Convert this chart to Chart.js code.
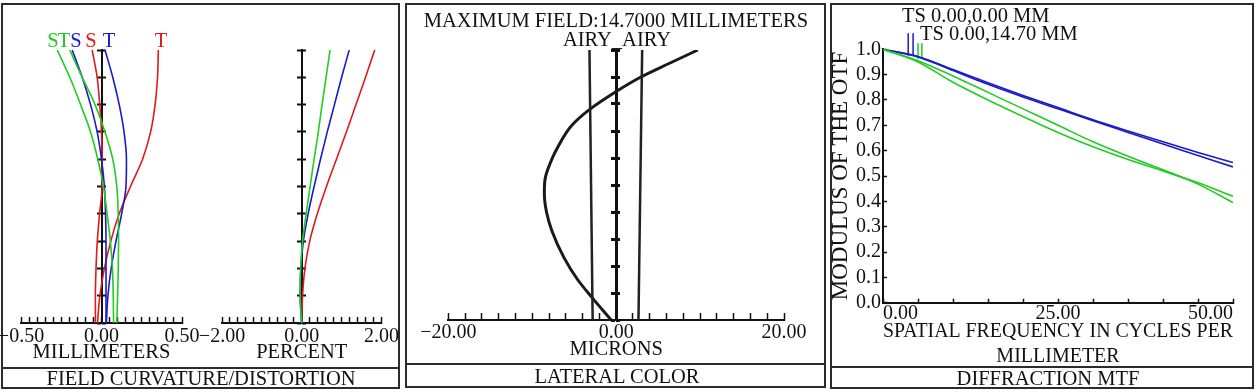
<!DOCTYPE html>
<html>
<head>
<meta charset="utf-8">
<script src="https://cdn.jsdelivr.net/npm/chart.js@4"></script>
<style>
body { margin: 0; background: #fff; }
#page { position: relative; width: 1256px; height: 392px; overflow: hidden; font-family: 'Liberation Serif', 'Times New Roman', serif; color: #111; }
.frame { position: absolute; border: 2px solid #2b2b2b; box-sizing: border-box; }
.band { position: absolute; height: 2px; background: #2b2b2b; }
.txt { position: absolute; white-space: nowrap; transform: translate(-50%, -50%); font-size: 20.5px; line-height: 1; }
.lft { transform: translate(0, -50%); }
canvas { position: absolute; }
</style>
</head>
<body>
<div id="page">
  <div class="frame" style="left:1px;top:3px;width:399px;height:386px"></div>
  <div class="band" style="left:1px;top:367px;width:399px"></div>
  <div class="frame" style="left:405px;top:3px;width:421px;height:385px"></div>
  <div class="band" style="left:405px;top:363px;width:421px"></div>
  <div class="frame" style="left:830px;top:3px;width:424px;height:386px"></div>
  <div class="band" style="left:830px;top:366px;width:424px"></div>

  <canvas id="curv"></canvas>
  <canvas id="dist"></canvas>
  <canvas id="lat"></canvas>
  <canvas id="mtf"></canvas>

  <div class="txt" style="left:201px;top:378px">FIELD CURVATURE/DISTORTION</div>
  <div class="txt" style="left:617px;top:376px">LATERAL COLOR</div>
  <div class="txt" style="left:1048px;top:378px">DIFFRACTION MTF</div>

  <div class="txt" style="left:53px;top:40px;color:#22cc22">S</div>
  <div class="txt" style="left:64px;top:40px;color:#22cc22">T</div>
  <div class="txt" style="left:76px;top:40px;color:#1a1ac8">S</div>
  <div class="txt" style="left:91px;top:40px;color:#e01a1a">S</div>
  <div class="txt" style="left:109px;top:40px;color:#1a1ac8">T</div>
  <div class="txt" style="left:161px;top:40px;color:#e01a1a">T</div>

  <div class="txt" style="left:616px;top:20px">MAXIMUM FIELD:14.7000 MILLIMETERS</div>
  <div class="txt" style="left:617px;top:39px">AIRY_AIRY</div>

  <div class="txt lft" style="left:902px;top:15px">TS 0.00,0.00 MM</div>
  <div class="txt lft" style="left:920px;top:33px">TS 0.00,14.70 MM</div>
</div>
<script>
// field curvature / distortion, values at relative field 0..1
const fieldLevels = [0, 0.1, 0.2, 0.3, 0.4, 0.5, 0.6, 0.7, 0.8, 0.9, 1.0];
const curvRedT   = [-0.025, -0.01, 0.018, 0.058, 0.11, 0.18, 0.255, 0.305, 0.333, 0.348, 0.353];
const curvRedS   = [-0.038, -0.038, -0.034, -0.026, -0.012, 0.004, 0.004, 0.0, -0.011, -0.027, -0.058];
const curvBlueT  = [0.03, 0.04, 0.06, 0.09, 0.125, 0.152, 0.155, 0.14, 0.11, 0.07, 0.022];
const curvBlueS  = [0.028, 0.028, 0.028, 0.028, 0.025, 0.018, 0.0, -0.027, -0.068, -0.12, -0.182];
const curvGreenT = [0.095, 0.1, 0.104, 0.106, 0.104, 0.095, 0.07, 0.022, -0.04, -0.12, -0.197];
const curvGreenS = [0.075, 0.073, 0.068, 0.055, 0.035, 0.012, -0.023, -0.068, -0.13, -0.197, -0.275];
const distRed   = [0, 0.02, 0.08, 0.2, 0.39, 0.62, 0.87, 1.12, 1.36, 1.6, 1.83];
const distBlue  = [0, -0.04, -0.02, 0.04, 0.16, 0.31, 0.47, 0.64, 0.82, 1.0, 1.19];
const distGreen = [0, -0.04, -0.03, 0.02, 0.11, 0.21, 0.31, 0.415, 0.51, 0.61, 0.71];

// lateral color (microns)
const latField = [0, 0.08, 0.15, 0.23, 0.33, 0.4, 0.47, 0.53, 0.6, 0.64, 0.72, 0.78, 0.85, 0.9, 0.95, 1.0];
const latColor = [-0.6, -2.79, -4.6, -6.2, -7.65, -8.3, -8.56, -8.42, -7.6, -6.96, -5.3, -3.15, 0.2, 2.95, 6.3, 9.73];
const airyField = [0, 1];
const airyLeft  = [-2.8, -3.18];
const airyRight = [2.66, 3.1];

// diffraction MTF
const mtfFreq  = [0, 5, 10, 15, 20, 25, 30, 35, 40, 45, 50];
const mtfAxisT = [1, 0.972, 0.92, 0.868, 0.818, 0.77, 0.722, 0.678, 0.635, 0.593, 0.553];
const mtfAxisS = [1, 0.970, 0.916, 0.862, 0.812, 0.765, 0.718, 0.672, 0.626, 0.581, 0.536];
const mtfEdgeT = [1, 0.955, 0.895, 0.83, 0.765, 0.7, 0.635, 0.578, 0.525, 0.468, 0.395];
const mtfEdgeS = [1, 0.95, 0.87, 0.8, 0.735, 0.672, 0.615, 0.565, 0.52, 0.473, 0.42];
const markAxisFreq = [3.6, 4.3];
const markAxisSpan = [0.975, 1.063];
const markEdgeFreq = [5.0, 5.55];
const markEdgeSpan = [0.962, 1.024];

// tick labels
const curvTicks = [-0.5, 0, 0.5];
const distTicks = [-2, 0, 2];
const latTicks  = [-20, 0, 20];
const mtfXTicks = [0, 25, 50];
const mtfYTicks = [0, 0.1, 0.2, 0.3, 0.4, 0.5, 0.6, 0.7, 0.8, 0.9, 1.0];

const INK = '#111';
const RED = '#e01a1a', BLUE = '#1a1ac8', GREEN = '#22cc22';
Chart.defaults.font.family = "'Liberation Serif', 'Times New Roman', serif";
Chart.defaults.color = INK;

function vpts(field, vals) { return field.map((f, i) => ({x: vals[i], y: f})); }
function hpts(xs, vals) { return xs.map((x, i) => ({x: x, y: vals[i]})); }
function curve(data, color, width) {
  return {data: data, borderColor: color, borderWidth: width, pointRadius: 0,
          cubicInterpolationMode: 'monotone', fill: false};
}
function tickLabel(values, digits) {
  return function (v) {
    const hit = values.find(l => Math.abs(l - v) < 1e-6);
    return hit === undefined ? '' : hit.toFixed(digits).replace('-', '\u2212');
  };
}
function xAxis(o) {
  return {
    type: 'linear', position: 'bottom', min: o.min, max: o.max,
    border: {color: INK, width: 2},
    grid: {drawOnChartArea: false, tickLength: -o.tick, tickColor: INK, tickWidth: 1.5},
    ticks: {stepSize: o.step, autoSkip: false, maxRotation: 0, padding: o.pad, color: INK,
            align: o.align || 'center', font: {size: 20, lineHeight: 1.2},
            callback: tickLabel(o.labels, 2)},
    title: {display: true, text: o.title, color: INK, padding: 0,
            font: {size: o.titleSize || 20.5, lineHeight: o.lh || 1.2}},
    afterFit: s => { s.height = o.height; }
  };
}
function centerAxes(tick, width) {
  const base = {type: 'linear', min: 0, max: 1, position: {x: 0}, ticks: {display: false, stepSize: 0.1}};
  return {
    y:  Object.assign({}, base, {border: {color: INK, width: width},
         grid: {drawOnChartArea: false, tickLength: tick, tickColor: INK, tickWidth: width}}),
    y2: Object.assign({}, base, {border: {display: false},
         grid: {drawOnChartArea: false, tickLength: -tick, tickColor: INK, tickWidth: width}})
  };
}
function makeChart(id, box, pad, datasets, scales, indexAxis) {
  const cv = document.getElementById(id);
  cv.style.left = box.left + 'px';
  cv.style.top = box.top + 'px';
  cv.width = box.width;
  cv.height = box.height;
  return new Chart(cv, {
    type: 'line',
    data: {datasets: datasets},
    options: {
      indexAxis: indexAxis || 'x',
      responsive: false, animation: false, events: [],
      layout: {padding: pad},
      plugins: {legend: {display: false}, tooltip: {enabled: false}},
      scales: scales
    }
  });
}

// field curvature
makeChart('curv', {left: -20, top: 0, width: 230, height: 392},
  {left: 41, right: 28, top: 50, bottom: 26.7},
  [
    curve(vpts(fieldLevels, curvGreenS), GREEN, 1.6),
    curve(vpts(fieldLevels, curvGreenT), GREEN, 1.6),
    curve(vpts(fieldLevels, curvBlueS), BLUE, 1.6),
    curve(vpts(fieldLevels, curvBlueT), BLUE, 1.6),
    curve(vpts(fieldLevels, curvRedS), RED, 1.6),
    curve(vpts(fieldLevels, curvRedT), RED, 1.6)
  ],
  Object.assign({x: xAxis({min: -0.5, max: 0.5, step: 0.05, labels: curvTicks, tick: 6, pad: 8,
                           title: 'MILLIMETERS', height: 42.3})}, centerAxes(4, 2)), 'y');

// distortion
makeChart('dist', {left: 185, top: 0, width: 222, height: 392},
  {left: 37, right: 25, top: 50, bottom: 26.7},
  [
    curve(vpts(fieldLevels, distGreen), GREEN, 1.6),
    curve(vpts(fieldLevels, distBlue), BLUE, 1.6),
    curve(vpts(fieldLevels, distRed), RED, 1.6)
  ],
  Object.assign({x: xAxis({min: -2, max: 2, step: 0.2, labels: distTicks, tick: 6, pad: 8,
                           title: 'PERCENT', height: 42.3})}, centerAxes(4, 2)), 'y');

// lateral color
makeChart('lat', {left: 408, top: 0, width: 416, height: 392},
  {left: 40.3, right: 40, top: 50, bottom: 29.7},
  [
    curve(vpts(airyField, airyLeft), '#222', 2.5),
    curve(vpts(airyField, airyRight), '#222', 2.5),
    curve(vpts(latField, latColor), '#1a1a1a', 3)
  ],
  Object.assign({x: xAxis({min: -20, max: 20, step: 2, labels: latTicks, tick: 7, pad: 8,
                           title: 'MICRONS', height: 42.3})}, centerAxes(4, 3)), 'y');

// diffraction MTF
const markers = [];
markAxisFreq.forEach(f => markers.push(Object.assign(curve(hpts([f, f], markAxisSpan), BLUE, 1.5), {clip: false})));
markEdgeFreq.forEach(f => markers.push(Object.assign(curve(hpts([f, f], markEdgeSpan), GREEN, 1.5), {clip: false})));
makeChart('mtf', {left: 820, top: 0, width: 432, height: 392},
  {left: 7.8, right: 19, top: 49.3, bottom: 22.8},
  [
    curve(hpts(mtfFreq, mtfEdgeS), GREEN, 1.6),
    curve(hpts(mtfFreq, mtfEdgeT), GREEN, 1.6),
    curve(hpts(mtfFreq, mtfAxisS), BLUE, 1.6),
    curve(hpts(mtfFreq, mtfAxisT), BLUE, 1.6)
  ].concat(markers),
  {
    x: xAxis({min: 0, max: 50, step: 5, labels: mtfXTicks, tick: 4, pad: 3.3, align: 'inner',
              title: ['SPATIAL FREQUENCY IN CYCLES PER', 'MILLIMETER'], titleSize: 20, lh: 1.25, height: 66.5}),
    y: {
      type: 'linear', position: 'left', min: 0, max: 1,
      border: {color: INK, width: 2},
      grid: {drawOnChartArea: false, tickLength: -4, tickColor: INK, tickWidth: 1.5},
      ticks: {stepSize: 0.1, autoSkip: false, padding: 6, color: INK, font: {size: 20, lineHeight: 1.2},
              callback: tickLabel(mtfYTicks, 1)},
      title: {display: true, text: 'MODULUS OF THE OTF', color: INK, padding: 0, font: {size: 23, lineHeight: 1.15}},
      afterFit: s => { s.width = 55.2; }
    }
  });
</script>
</body>
</html>
